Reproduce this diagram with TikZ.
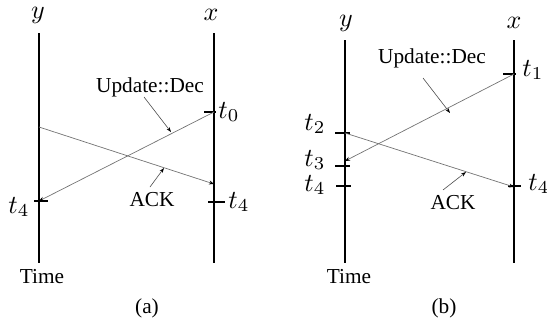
\documentclass[tikz,border=0pt]{standalone}
\usepackage{graphicx}
\usepackage{fontspec}
\setmainfont{Liberation Serif}
\usetikzlibrary{arrows.meta}
\newcommand{\mlab}[1]{\scalebox{2.6}{\fontsize{10}{12}\selectfont$#1$}}
\begin{document}
\begin{tikzpicture}[x=1pt,y=-1pt,
  life/.style={line width=2.6pt},
  msg/.style={draw=black!55,line width=0.7pt,-{Stealth[length=5pt,width=4pt,black]}},
  ptr/.style={draw=black!70,line width=0.6pt,-{Stealth[length=5pt,width=3.5pt,black]}},
  tickmark/.style={line width=1.2pt},
  thicktick/.style={line width=2.4pt},
  lbl/.style={font=\fontsize{21.3}{25}\selectfont, inner sep=0pt},
]
\useasboundingbox (0,0) rectangle (547,324);
% ---------- panel (a)
\coordinate (ayT) at (39,33);  \coordinate (ayB) at (39,263);
\coordinate (axT) at (214,33); \coordinate (axB) at (214,263);
\draw[life] (ayT) -- (ayB);
\draw[life] (axT) -- (axB);
\node[lbl] (ay) at (38,15) {\mlab{y}};
\node[lbl] (ax) at (211,15) {\mlab{x}};
\node[lbl] (atime) at (42,277) {Time};
\node[lbl] (acap) at (147,308) {(a)};
\coordinate (at0) at (214,112);
\coordinate (at4x) at (214,202);
\coordinate (at4y) at (39,201);
\coordinate (aack0) at (39,127);
\coordinate (aack1) at (214,184);
\draw[tickmark] (204,112) -- (216,112);
\draw[tickmark] (208,202) -- (225,202);
\draw[tickmark] (34,201) -- (48,201);
\node[lbl] (lt0) at (229,112) {\mlab{t_0}};
\node[lbl] (lt4r) at (239,202) {\mlab{t_4}};
\node[lbl] (lt4l) at (19,207) {\mlab{t_4}};
\draw[msg] (at0) -- (at4y);
\draw[msg] (aack0) -- (aack1);
\node[lbl] (aupd) at (150,87) {Update::Dec};
\node[lbl] (aack) at (152,200) {ACK};
\coordinate (ap1) at (144,97);
\coordinate (ap2) at (171,132);
\coordinate (ap3) at (150,187);
\coordinate (ap4) at (164,168);
\draw[ptr] (ap1) -- (ap2);
\draw[ptr] (ap3) -- (ap4);
% ---------- panel (b)
\coordinate (byT) at (345,40);  \coordinate (byB) at (345,263);
\coordinate (bxT) at (514,40);  \coordinate (bxB) at (514,263);
\draw[life] (byT) -- (byB);
\draw[life] (bxT) -- (bxB);
\node[lbl] (by) at (346,23) {\mlab{y}};
\node[lbl] (bx) at (514,23) {\mlab{x}};
\node[lbl] (btime) at (349,277) {Time};
\node[lbl] (bcap) at (444,308) {(b)};
\coordinate (bt1) at (514,74);
\coordinate (bt2) at (345,133);
\coordinate (bt3) at (345,161);
\coordinate (bt4x) at (514,187);
\draw[tickmark] (503,74) -- (516,74);
\draw[tickmark] (335,133) -- (350,133);
\draw[tickmark] (335,166) -- (350,166);
\draw[thicktick] (336,186) -- (351,186);
\draw[thicktick] (508,186) -- (521,186);
\node[lbl] (lt1) at (533,70) {\mlab{t_1}};
\node[lbl] (lt2) at (315,124) {\mlab{t_2}};
\node[lbl] (lt3) at (315,160) {\mlab{t_3}};
\node[lbl] (lt4bl) at (315,185) {\mlab{t_4}};
\node[lbl] (lt4br) at (539,184) {\mlab{t_4}};
\draw[msg] (bt1) -- (bt3);
\draw[msg] (bt2) -- (bt4x);
\node[lbl] (bupd) at (432,58) {Update::Dec};
\node[lbl] (back) at (453,203) {ACK};
\coordinate (bp1) at (423,78);
\coordinate (bp2) at (450,113);
\coordinate (bp3) at (443,190);
\coordinate (bp4) at (466,172);
\draw[ptr] (bp1) -- (bp2);
\draw[ptr] (bp3) -- (bp4);
\end{tikzpicture}
\end{document}
